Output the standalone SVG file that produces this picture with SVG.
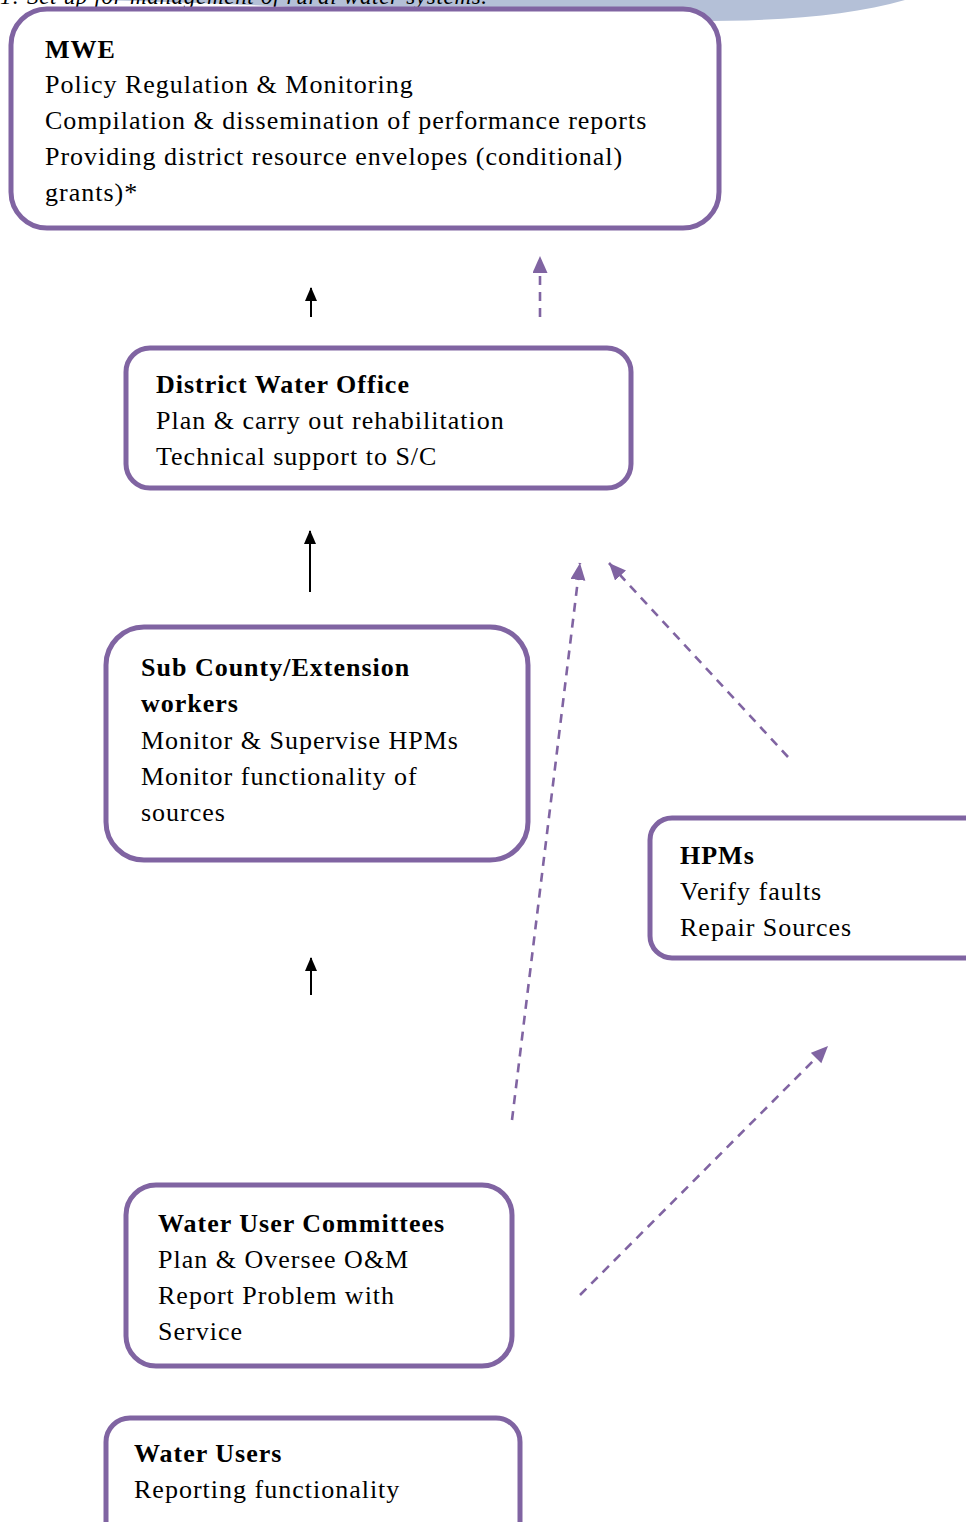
<svg xmlns="http://www.w3.org/2000/svg" width="966" height="1522" viewBox="0 0 966 1522">
<style>
.box{fill:#fff;stroke:#8064A2;stroke-width:5}
text{font-family:"Liberation Serif","DejaVu Serif",serif;font-size:26px;fill:#000;letter-spacing:1px}
.b{font-weight:bold}
.cap{font-style:italic;font-size:23px;letter-spacing:0.7px}
.solid{stroke:#000;stroke-width:2;fill:none}
.dash{stroke:#8064A2;stroke-width:2.6;stroke-dasharray:9 7;fill:none}
</style>
<defs>
<marker id="ab" markerUnits="userSpaceOnUse" markerWidth="14" markerHeight="16" refX="13" refY="6" orient="auto">
<path d="M0,0 L14,6 L0,12 z" fill="#000"/>
</marker>
<marker id="ap" markerUnits="userSpaceOnUse" markerWidth="18" markerHeight="16" refX="17" refY="7.5" orient="auto">
<path d="M0,0 L17,7.5 L0,15 z" fill="#8064A2"/>
</marker>
</defs>
<path d="M95 0 C 500 10, 760 42, 905 0 Z" fill="#B4C0D7"/>
<text class="cap" x="0" y="4">1: Set up for management of rural water systems.</text>
<g id="mwe">
<rect class="box" x="11" y="9" width="708" height="219" rx="36"/>
<text class="b" x="45" y="58">MWE</text>
<text x="45" y="93">Policy Regulation &amp; Monitoring</text>
<text x="45" y="129">Compilation &amp; dissemination of performance reports</text>
<text x="45" y="165">Providing district resource envelopes (conditional)</text>
<text x="45" y="201">grants)*</text>
</g>
<g id="dwo">
<rect class="box" x="126" y="348" width="505" height="140" rx="24"/>
<text class="b" x="156" y="393">District Water Office</text>
<text x="156" y="429">Plan &amp; carry out rehabilitation</text>
<text x="156" y="465">Technical support to S/C</text>
</g>
<g id="subcounty">
<rect class="box" x="106" y="627" width="422" height="233" rx="38"/>
<text class="b" x="141" y="676">Sub County/Extension</text>
<text class="b" x="141" y="712">workers</text>
<text x="141" y="749">Monitor &amp; Supervise HPMs</text>
<text x="141" y="785">Monitor functionality of</text>
<text x="141" y="821">sources</text>
</g>
<g id="hpms">
<rect class="box" x="650" y="818" width="340" height="140" rx="22"/>
<text class="b" x="680" y="864">HPMs</text>
<text x="680" y="900">Verify faults</text>
<text x="680" y="936">Repair Sources</text>
</g>
<g id="wuc">
<rect class="box" x="126" y="1185" width="386" height="181" rx="30"/>
<text class="b" x="158" y="1232">Water User Committees</text>
<text x="158" y="1268">Plan &amp; Oversee O&amp;M</text>
<text x="158" y="1304">Report Problem with</text>
<text x="158" y="1340">Service</text>
</g>
<g id="users">
<rect class="box" x="106" y="1418" width="414" height="140" rx="24"/>
<text class="b" x="134" y="1462">Water Users</text>
<text x="134" y="1498">Reporting functionality</text>
</g>
<g id="connectors">
<line class="solid" x1="311" y1="317" x2="311" y2="288" marker-end="url(#ab)"/>
<line class="dash" x1="540" y1="317" x2="540" y2="256" marker-end="url(#ap)"/>
<line class="solid" x1="310" y1="592" x2="310" y2="531" marker-end="url(#ab)"/>
<line class="dash" x1="512" y1="1120" x2="580" y2="563" marker-end="url(#ap)"/>
<line class="dash" x1="788" y1="757" x2="609" y2="563" marker-end="url(#ap)"/>
<line class="solid" x1="311" y1="995" x2="311" y2="958" marker-end="url(#ab)"/>
<line class="dash" x1="580" y1="1295" x2="828" y2="1046" marker-end="url(#ap)"/>
</g>
</svg>
